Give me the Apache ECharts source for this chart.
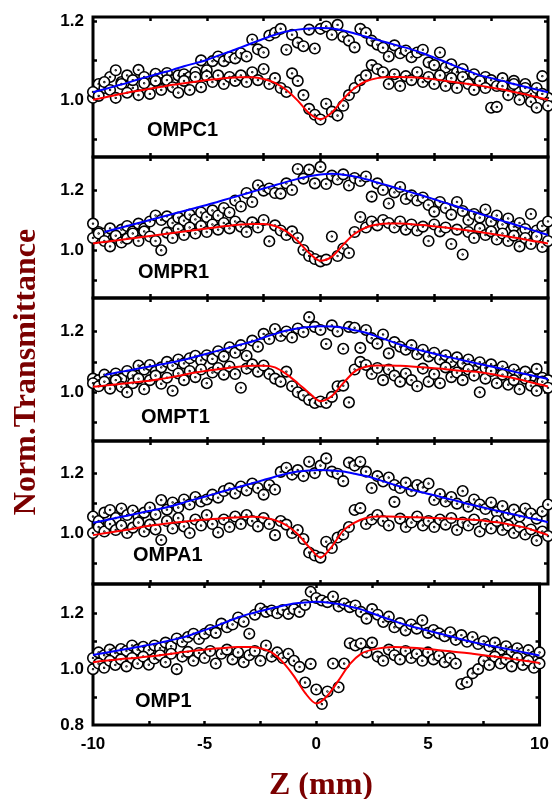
<!DOCTYPE html>
<html><head><meta charset="utf-8">
<script src="https://cdn.jsdelivr.net/npm/echarts@6/dist/echarts.min.js"></script>
<style>html,body{margin:0;padding:0;background:#fff}#c{width:552px;height:799px}</style>
</head><body><div id="c"></div>
<script>
// z positions of the measured points (step 0.25 mm) and of the fit curves (step 0.5 mm)
const Z = []; for (let k = 0; k <= 80; k++) Z.push(-10 + k * 0.25);
const ZL = []; for (let k = 0; k <= 40; k++) ZL.push(-10 + k * 0.5);

const xTickLabels = [-10, -5, 0, 5, 10];
const xTicks = [-7.5, -5, -2.5, 0, 2.5, 5, 7.5];
const panelNames = ['OMPC1', 'OMPR1', 'OMPT1', 'OMPA1', 'OMP1'];
const yMin = [0.855, 0.84, 0.84, 0.83, 0.8];
const yMax = [1.21, 1.31, 1.31, 1.307, 1.305];
const yTickLabels = [[1.0, 1.2], [1.0, 1.2], [1.0, 1.2], [1.0, 1.2], [0.8, 1.0, 1.2]];
const yTicks = [0.9, 1.0, 1.1, 1.2];

// ---------- OMPC1 ----------
const ompc1Open = [1.005,1.040,1.030,1.058,1.075,1.045,1.062,1.030,1.076,1.058,1.040,1.066,1.055,1.068,1.050,1.062,1.065,1.058,1.070,1.100,1.075,
 1.098,1.110,1.098,1.108,1.105,1.118,1.110,1.153,1.128,1.120,1.163,1.170,1.180,1.127,1.165,1.145,1.136,1.178,1.130,1.180,
 1.186,1.165,1.190,1.160,1.150,1.133,1.180,1.170,1.150,1.140,1.132,1.110,1.138,1.118,1.125,1.108,1.120,1.127,1.095,1.088,
 1.120,1.082,1.090,1.070,1.078,1.060,1.065,1.045,1.058,1.050,1.035,1.055,1.028,1.048,1.020,1.040,1.015,1.030,1.060,1.005];
const ompc1Closed = [1.020,1.010,1.045,1.025,1.005,1.040,1.018,1.050,1.012,1.042,1.015,1.048,1.025,1.050,1.032,1.018,1.048,1.025,1.058,1.032,1.060,
 1.045,1.062,1.040,1.058,1.048,1.062,1.045,1.070,1.050,1.078,1.040,1.055,1.030,1.020,1.067,1.048,1.012,0.977,0.962,0.950,
 0.990,0.970,0.960,0.985,1.012,1.030,1.050,1.062,1.088,1.078,1.070,1.040,1.065,1.035,1.060,1.050,1.070,1.045,1.058,1.040,
 1.062,1.035,1.055,1.030,1.058,1.040,1.025,1.048,1.030,0.980,0.982,1.035,1.012,1.040,1.000,1.030,0.995,0.980,1.015,0.985];
const ompc1Blue = [1.019,1.027,1.035,1.043,1.052,1.060,1.068,1.076,1.085,1.093,1.101,
 1.112,1.122,1.133,1.144,1.155,1.165,1.173,1.178,1.181,1.182,
 1.181,1.176,1.168,1.160,1.152,1.144,1.136,1.128,1.118,1.107,
 1.096,1.084,1.073,1.062,1.055,1.048,1.040,1.033,1.026,1.019];
const ompc1Red = [1.000,1.006,1.012,1.018,1.023,1.028,1.033,1.038,1.042,1.046,1.050,
 1.053,1.056,1.057,1.057,1.053,1.043,1.025,0.998,0.966,0.951,
 0.968,1.002,1.030,1.047,1.055,1.058,1.058,1.057,1.055,1.052,
 1.048,1.044,1.040,1.036,1.031,1.026,1.020,1.014,1.007,1.000];

// ---------- OMPR1 ----------
const ompr1Open = [1.088,1.060,1.055,1.072,1.040,1.068,1.080,1.062,1.088,1.072,1.095,1.115,1.100,1.112,1.090,1.108,1.098,1.118,1.102,1.125,1.110,
 1.132,1.115,1.140,1.125,1.165,1.145,1.190,1.160,1.216,1.198,1.205,1.190,1.188,1.222,1.200,1.270,1.238,1.268,1.222,1.277,
 1.220,1.248,1.235,1.252,1.215,1.240,1.230,1.245,1.178,1.222,1.200,1.155,1.192,1.210,1.170,1.182,1.165,1.175,1.150,1.128,
 1.160,1.140,1.118,1.160,1.130,1.100,1.120,1.108,1.135,1.095,1.115,1.085,1.105,1.078,1.090,1.070,1.120,1.065,1.080,1.095];
const ompr1Closed = [1.040,1.055,1.030,1.012,1.048,1.025,1.038,1.055,1.030,1.062,1.045,1.030,0.999,1.058,1.040,1.070,1.050,1.075,1.055,1.080,1.060,
 1.085,1.068,1.090,1.072,1.095,1.078,1.060,1.092,1.075,1.100,1.029,1.082,1.065,1.050,1.062,1.040,1.000,0.980,0.970,0.962,
 0.968,1.045,0.980,1.005,0.990,1.060,1.110,1.075,1.095,1.082,1.100,1.090,1.075,1.095,1.068,1.085,1.065,1.078,1.030,1.085,
 1.062,1.075,1.020,1.068,0.985,1.060,1.040,1.072,1.050,1.062,1.035,1.055,1.030,1.048,1.012,1.040,1.020,1.045,1.010,1.030];
const ompr1Blue = [null,1.060,1.070,1.080,1.090,1.100,1.110,1.120,1.130,1.140,1.150,
 1.161,1.172,1.183,1.194,1.205,1.216,1.227,1.237,1.246,1.252,
 1.254,1.251,1.245,1.236,1.225,1.214,1.203,1.192,1.181,1.169,
 1.157,1.145,1.133,1.121,1.109,1.097,1.086,1.074,1.062,1.050];
const ompr1Red = [1.022,1.027,1.032,1.037,1.042,1.047,1.052,1.057,1.062,1.067,1.072,
 1.077,1.081,1.085,1.087,1.087,1.080,1.062,1.030,0.990,0.964,
 0.978,1.018,1.054,1.075,1.085,1.088,1.088,1.086,1.083,1.079,
 1.075,1.070,1.065,1.060,1.054,1.048,1.042,1.035,1.028,1.022];

// ---------- OMPT1 ----------
const ompt1Open = [1.045,1.040,1.058,1.048,1.062,1.045,1.070,1.055,1.088,1.075,1.090,1.068,1.082,1.100,1.088,1.108,1.095,1.112,1.120,1.105,1.122,
 1.110,1.135,1.118,1.148,1.130,1.155,1.120,1.170,1.150,1.192,1.175,1.208,1.185,1.200,1.180,1.210,1.198,1.247,1.215,1.205,
 1.159,1.220,1.200,1.143,1.215,1.212,1.146,1.205,1.178,1.160,1.190,1.128,1.165,1.150,1.140,1.155,1.125,1.140,1.118,1.130,
 1.108,1.122,1.100,1.115,1.095,1.108,1.088,1.099,1.080,1.092,1.072,1.085,1.065,1.075,1.058,1.068,1.050,1.077,1.048,1.040];
const ompt1Closed = [1.030,1.020,1.035,1.012,1.040,1.018,1.000,1.030,1.045,1.010,1.040,1.055,1.028,1.048,1.005,1.062,1.040,1.070,1.050,1.075,1.030,
 1.065,1.080,1.058,1.085,1.060,1.015,1.078,1.092,1.068,1.088,1.060,1.045,1.035,1.068,1.020,1.000,0.990,0.975,0.965,0.970,
 0.965,0.985,1.020,1.022,0.967,1.075,1.100,1.090,1.060,1.080,1.040,1.075,1.055,1.035,1.062,1.040,1.020,1.078,1.035,1.060,
 1.030,1.082,1.050,1.065,1.040,1.075,1.055,1.000,1.045,1.070,1.030,1.058,1.025,1.040,1.010,1.045,1.022,1.005,1.035,1.015];
const ompt1Blue = [null,1.056,1.064,1.071,1.078,1.085,1.092,1.099,1.107,1.117,1.127,
 1.137,1.147,1.157,1.167,1.180,1.192,1.203,1.210,1.215,1.217,
 1.216,1.212,1.204,1.196,1.183,1.170,1.157,1.145,1.136,1.127,
 1.118,1.110,1.101,1.093,1.085,1.077,1.068,1.060,1.052,1.044];
const ompt1Red = [1.018,1.022,1.026,1.030,1.034,1.038,1.044,1.050,1.058,1.065,1.071,
 1.076,1.081,1.085,1.087,1.087,1.082,1.060,1.030,0.998,0.971,
 0.988,1.030,1.068,1.084,1.088,1.088,1.087,1.085,1.082,1.079,
 1.076,1.072,1.069,1.066,1.060,1.053,1.046,1.038,1.028,1.019];

// ---------- OMPA1 ----------
const ompa1Open = [1.055,1.040,1.068,1.077,1.050,1.082,1.060,1.075,1.055,1.068,1.085,1.062,1.110,1.078,1.102,1.085,1.112,1.095,1.120,1.105,1.112,
 1.128,1.118,1.140,1.149,1.132,1.155,1.142,1.165,1.150,1.128,1.160,1.145,1.204,1.218,1.195,1.210,1.190,1.238,1.200,1.225,
 1.249,1.205,1.198,1.173,1.235,1.225,1.238,1.205,1.150,1.190,1.172,1.185,1.160,1.150,1.168,1.140,1.160,1.152,1.165,1.110,
 1.130,1.105,1.120,1.098,1.140,1.088,1.112,1.095,1.080,1.102,1.070,1.090,1.062,1.078,1.055,1.082,1.065,1.048,1.072,1.095];
const ompa1Closed = [1.000,1.020,1.005,1.030,1.010,1.025,1.000,1.018,1.035,1.005,1.028,1.012,0.977,1.040,1.015,1.050,1.022,1.000,1.045,1.025,1.060,
 1.030,1.002,1.045,1.020,1.055,1.030,1.060,1.040,1.022,1.050,1.030,0.993,1.040,1.028,1.000,1.010,0.980,0.935,0.925,0.918,
 0.971,0.950,0.985,0.995,1.020,1.077,1.083,1.030,1.045,1.060,1.040,1.025,1.104,1.048,1.020,1.035,1.055,1.025,1.040,1.020,
 1.045,1.028,1.050,1.010,1.035,1.025,1.045,1.005,1.030,1.015,1.040,1.010,1.025,1.000,1.020,0.995,1.012,0.975,1.005,0.990];
const ompa1Blue = [1.034,1.042,1.050,1.058,1.066,1.074,1.082,1.091,1.102,1.113,1.123,
 1.134,1.145,1.155,1.166,1.177,1.188,1.198,1.205,1.209,1.210,
 1.209,1.205,1.198,1.190,1.179,1.167,1.155,1.144,1.135,1.126,
 1.116,1.107,1.097,1.088,1.079,1.070,1.062,1.053,1.045,1.036];
const ompa1Red = [0.993,0.999,1.005,1.011,1.018,1.024,1.029,1.034,1.038,1.042,1.045,
 1.048,1.051,1.053,1.054,1.052,1.043,1.026,0.996,0.953,0.918,
 0.955,1.008,1.035,1.050,1.055,1.055,1.054,1.053,1.052,1.050,
 1.049,1.047,1.045,1.043,1.038,1.033,1.026,1.018,1.006,0.993];

// ---------- OMP1 ----------
const omp1Open = [1.040,1.060,1.050,1.070,1.058,1.072,1.065,1.085,1.070,1.080,1.068,1.085,1.075,1.095,1.082,1.110,1.098,1.115,1.127,1.108,1.127,
 1.140,1.130,1.163,1.150,1.160,1.185,1.170,1.127,1.195,1.217,1.205,1.210,1.200,1.212,1.198,1.215,1.205,1.230,1.277,1.255,
 1.246,1.240,1.260,1.225,1.235,1.222,1.228,1.205,1.181,1.215,1.195,1.169,1.188,1.150,1.165,1.139,1.160,1.145,1.175,1.130,
 1.140,1.128,1.118,1.132,1.105,1.122,1.098,1.115,1.090,1.100,1.082,1.095,1.070,1.082,1.062,1.075,1.058,1.068,1.045,1.060];
const omp1Closed = [1.000,1.020,1.005,1.030,1.015,1.035,1.010,1.040,1.020,1.045,1.016,1.038,1.050,1.025,1.055,1.000,1.045,1.062,1.030,1.058,1.040,
 1.065,1.020,1.055,1.070,1.035,1.060,1.025,1.050,1.065,1.030,1.085,1.045,1.060,1.040,1.055,1.030,1.008,0.952,1.019,0.927,
 0.875,0.920,1.020,0.935,1.020,1.093,1.085,1.092,1.060,1.095,1.045,1.030,1.070,1.050,1.035,1.065,1.040,1.055,1.030,1.060,
 1.035,1.048,1.025,1.040,1.020,0.947,0.953,0.985,1.000,1.030,1.015,1.045,1.020,1.035,1.010,1.040,1.015,1.030,1.005,1.020];
const omp1Blue = [1.051,1.058,1.065,1.072,1.079,1.087,1.095,1.104,1.113,1.126,1.140,
 1.154,1.170,1.185,1.198,1.208,1.218,1.227,1.235,1.239,1.241,
 1.239,1.233,1.224,1.214,1.200,1.186,1.172,1.159,1.148,1.138,
 1.128,1.118,1.107,1.097,1.089,1.081,1.073,1.065,1.057,1.049];
const omp1Red = [1.025,1.030,1.034,1.038,1.041,1.045,1.050,1.055,1.061,1.066,1.070,
 1.074,1.077,1.079,1.079,1.075,1.060,1.025,0.975,0.915,0.877,
 0.905,0.960,1.018,1.055,1.070,1.077,1.079,1.078,1.076,1.072,
 1.068,1.064,1.060,1.055,1.050,1.045,1.040,1.034,1.028,1.022];

const openData = [ompc1Open, ompr1Open, ompt1Open, ompa1Open, omp1Open];
const closedData = [ompc1Closed, ompr1Closed, ompt1Closed, ompa1Closed, omp1Closed];
const blueFit = [ompc1Blue, ompr1Blue, ompt1Blue, ompa1Blue, omp1Blue];
const redFit = [ompc1Red, ompr1Red, ompt1Red, ompa1Red, omp1Red];

// ---------- layout ----------
const gridTop = [17, 157, 298, 441, 584];
const gridH = [140, 141, 143, 143, 141];
const namePos = [[147, 130], [138, 272], [141, 417], [133, 555], [135, 701]];
const RING = 'path://M0,10A10,10,0,1,1,20,10A10,10,0,1,1,0,10ZM9.2,10A0.8,0.8,0,1,1,10.8,10A0.8,0.8,0,1,1,9.2,10Z';
const tickFont = { color: '#000', fontFamily: 'Liberation Sans, Arial, sans-serif', fontWeight: 'bold', fontSize: 17 };
const tickStyle = { show: true, inside: true, length: 4, lineStyle: { color: '#000', width: 2.5 } };
const noLine = { show: false, onZero: false };

const grids = [], xAxes = [], yAxes = [], series = [], graphics = [];
for (let i = 0; i < 5; i++) {
  grids.push({ left: 93, width: 455, top: gridTop[i], height: gridH[i], show: true,
    borderColor: '#000', borderWidth: 3, backgroundColor: 'transparent' });
  const last = i === 4;
  xAxes.push({ type: 'value', gridIndex: i, min: -10, max: 10, position: 'bottom',
    axisLine: noLine, splitLine: { show: false },
    axisTick: Object.assign({ customValues: xTicks }, tickStyle),
    axisLabel: Object.assign({ show: last, customValues: xTickLabels, margin: 11,
      showMinLabel: true, showMaxLabel: true, formatter: v => String(v) }, tickFont) });
  xAxes.push({ type: 'value', gridIndex: i, min: -10, max: 10, position: 'top',
    axisLine: noLine, splitLine: { show: false },
    axisTick: Object.assign({ customValues: xTicks }, tickStyle),
    axisLabel: { show: false } });
  yAxes.push({ type: 'value', gridIndex: i, min: yMin[i], max: yMax[i], position: 'left',
    axisLine: noLine, splitLine: { show: false },
    axisTick: Object.assign({ customValues: yTicks }, tickStyle),
    axisLabel: Object.assign({ customValues: yTickLabels[i], margin: 9,
      showMinLabel: true, showMaxLabel: true, formatter: v => v.toFixed(1) }, tickFont) });
  yAxes.push({ type: 'value', gridIndex: i, min: yMin[i], max: yMax[i], position: 'right',
    axisLine: noLine, splitLine: { show: false },
    axisTick: Object.assign({ customValues: yTicks }, tickStyle),
    axisLabel: { show: false } });

  const pts = (arr) => Z.map((z, k) => [z, arr[k]]);
  const fit = (arr) => ZL.map((z, k) => [z, arr[k]]).filter(d => d[1] != null);
  [openData[i], closedData[i]].forEach(arr => series.push({
    type: 'scatter', xAxisIndex: 2 * i, yAxisIndex: 2 * i, data: pts(arr),
    symbol: RING, symbolSize: 10.5, z: 2, silent: true,
    itemStyle: { color: '#fff', borderColor: '#000', borderWidth: 1.6, opacity: 1 }
  }));
  series.push({ type: 'line', xAxisIndex: 2 * i, yAxisIndex: 2 * i, data: fit(blueFit[i]),
    symbol: 'none', smooth: 0.3, z: 4, silent: true, lineStyle: { color: '#0000ff', width: 2 } });
  series.push({ type: 'line', xAxisIndex: 2 * i, yAxisIndex: 2 * i, data: fit(redFit[i]),
    symbol: 'none', smooth: 0.3, z: 4, silent: true, lineStyle: { color: '#ff0000', width: 2 } });

  graphics.push({ type: 'text', x: namePos[i][0], y: namePos[i][1], z: 10,
    style: { text: panelNames[i], font: 'bold 20px "Liberation Sans", Arial, sans-serif',
      fill: '#000', textAlign: 'left', textVerticalAlign: 'middle' } });
}
graphics.push({ type: 'text', x: 27, y: 372, rotation: Math.PI / 2, z: 10,
  style: { text: 'Norm.Transmittance', font: 'bold 32px "Liberation Serif", "Times New Roman", serif',
    fill: '#7b0000', textAlign: 'center', textVerticalAlign: 'middle' } });
graphics.push({ type: 'text', x: 321, y: 786, z: 10,
  style: { text: 'Z (mm)', font: 'bold 32px "Liberation Serif", "Times New Roman", serif',
    fill: '#7b0000', textAlign: 'center', textVerticalAlign: 'middle' } });

const chart = echarts.init(document.getElementById('c'), null, { renderer: 'canvas' });
chart.setOption({
  animation: false, backgroundColor: '#fff',
  grid: grids, xAxis: xAxes, yAxis: yAxes, series: series, graphic: graphics
});
</script></body></html>
